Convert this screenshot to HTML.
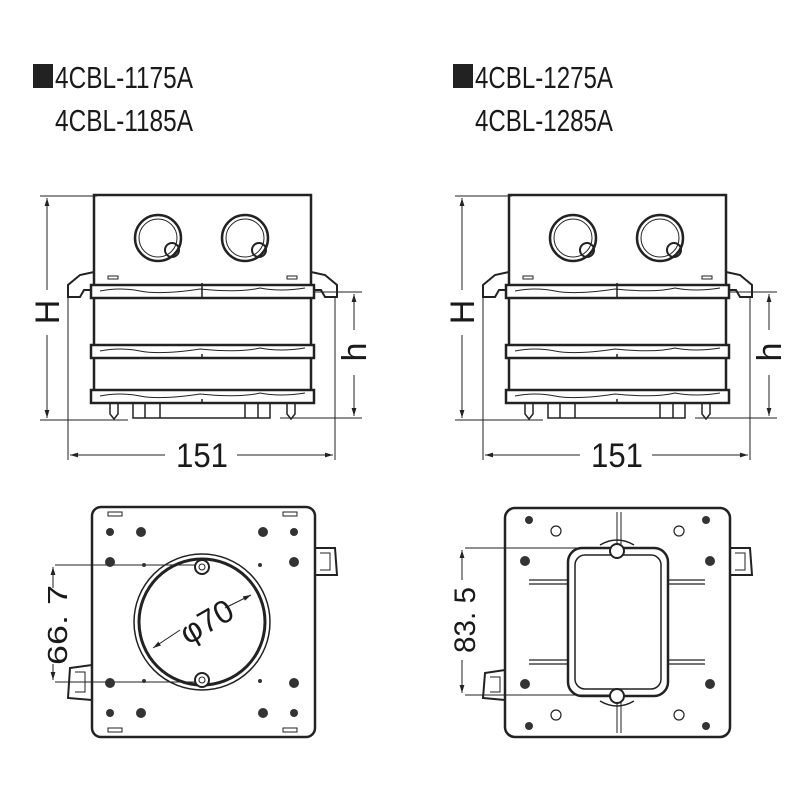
<!DOCTYPE html>
<html><head><meta charset="utf-8"><style>html,body{margin:0;padding:0;background:#fff}svg{display:block}text{font-family:"Liberation Sans",sans-serif;fill:#1a1a1a}</style></head>
<body>
<svg width="800" height="800" viewBox="0 0 800 800" xmlns="http://www.w3.org/2000/svg">
<defs>
<marker id="ar" viewBox="0 0 10 10" refX="10" refY="5" markerWidth="8" markerHeight="8" orient="auto-start-reverse"><path d="M0,2 L10,5 L0,8 z" fill="#222"/></marker>
<g id="side" fill="none" stroke="#222">
 <rect x="94" y="195" width="217" height="92" stroke-width="2.5" fill="#fff"/>
 <circle cx="158" cy="238" r="23" stroke-width="2.5"/><circle cx="158" cy="238" r="19" stroke-width="1"/>
 <circle cx="172" cy="250" r="7" stroke-width="2"/>
 <circle cx="245" cy="238" r="23" stroke-width="2.5"/><circle cx="245" cy="238" r="19" stroke-width="1"/>
 <circle cx="259" cy="250" r="7" stroke-width="2"/>
 <path d="M94,272 L80,275 L68,285 L68,297 L80,297 L84,290 L94,290" stroke-width="2"/>
 <path d="M311,272 L325,275 L337,285 L337,297 L325,297 L321,290 L311,290" stroke-width="2"/>
 <rect x="108" y="276" width="10" height="3" stroke-width="1"/><rect x="287" y="276" width="10" height="3" stroke-width="1"/>
 <rect x="91" y="285" width="223" height="13" stroke-width="2.5" fill="#fff"/>
 <path d="M94,298 L94,390 M311,298 L311,390" stroke-width="2.5"/>
 <rect x="91" y="345" width="223" height="13" stroke-width="2.5" fill="#fff"/>
 <rect x="91" y="390" width="223" height="13" stroke-width="2.5" fill="#fff"/>
 <path d="M100,291 q20,-4 40,0 q20,4 60,-2 q40,4 60,-1 q20,4 45,0 M100,351 q20,-4 40,0 q20,4 60,-2 q40,4 60,-1 q20,4 45,0 M100,396 q20,-4 40,0 q20,4 60,-2 q40,4 60,-1 q20,4 45,0" stroke-width="1"/>
 <path d="M202,283 L202,298 M202,354 L202,358 M202,399 L202,403" stroke-width="1.5"/>
 <path d="M133,403 L133,418 L270,418 L270,403 M145,403 L145,418 M160,403 L160,418 M245,403 L245,418 M258,403 L258,418" stroke-width="1.5"/>
 <path d="M110,403 L110,414 L114,419 L118,414 L118,403 M287,403 L287,414 L291,419 L295,414 L295,403" stroke-width="1.5"/>
 <path d="M97,196 L40,196 M128,420 L40,420 M314,292 L362,292 M280,418 L362,418 M68,297 L68,460 M335,297 L335,460" stroke-width="1"/>
 <line x1="47" y1="198" x2="47" y2="290" stroke-width="1" marker-start="url(#ar)"/>
 <line x1="47" y1="335" x2="47" y2="418" stroke-width="1" marker-end="url(#ar)"/>
 <line x1="354" y1="294" x2="354" y2="330" stroke-width="1" marker-start="url(#ar)"/>
 <line x1="354" y1="375" x2="354" y2="416" stroke-width="1" marker-end="url(#ar)"/>
 <line x1="70" y1="455" x2="165" y2="455" stroke-width="1" marker-start="url(#ar)"/>
 <line x1="237" y1="455" x2="333" y2="455" stroke-width="1" marker-end="url(#ar)"/>
</g>
</defs>
<rect x="33" y="64" width="20" height="24" fill="#222"/>
<text x="55" y="88" font-size="31" textLength="138" lengthAdjust="spacingAndGlyphs">4CBL-1175A</text>
<text x="55" y="131" font-size="31" textLength="138" lengthAdjust="spacingAndGlyphs">4CBL-1185A</text>
<rect x="453" y="64" width="20" height="24" fill="#222"/>
<text x="475" y="88" font-size="31" textLength="138" lengthAdjust="spacingAndGlyphs">4CBL-1275A</text>
<text x="475" y="131" font-size="31" textLength="138" lengthAdjust="spacingAndGlyphs">4CBL-1285A</text>

<use href="#side"/>
<use href="#side" transform="translate(415,0)"/>
<g font-size="34">
<text x="202" y="467" text-anchor="middle" textLength="52" lengthAdjust="spacingAndGlyphs">151</text>
<text x="617" y="467" text-anchor="middle" textLength="52" lengthAdjust="spacingAndGlyphs">151</text>
<text transform="translate(59,312) rotate(-90)" text-anchor="middle">H</text>
<text transform="translate(474,312) rotate(-90)" text-anchor="middle">H</text>
<text transform="translate(366,352) rotate(-90)" text-anchor="middle">h</text>
<text transform="translate(781,352) rotate(-90)" text-anchor="middle">h</text>
</g>

<g fill="none" stroke="#222">
 <rect x="92" y="507" width="223" height="230" rx="9" stroke-width="2.5"/>
 <path d="M315,548 L335,548 L337,575 L315,575 M92,665 L70,668 L68,698 L92,700" stroke-width="2"/>
 <path d="M320,553 L330,553 L330,570 L320,570 M75,672 L85,672 L85,692 L75,692" stroke-width="1"/>
 <circle cx="202" cy="622" r="68" stroke-width="1.5"/>
 <circle cx="202" cy="622" r="63" stroke-width="3"/>
 <circle cx="202" cy="567" r="7" stroke-width="2" fill="#fff"/><circle cx="202" cy="567" r="3" stroke-width="1"/>
 <circle cx="202" cy="680" r="7" stroke-width="2" fill="#fff"/><circle cx="202" cy="680" r="3" stroke-width="1"/>
 <path d="M55,565 L195,565 M55,682 L195,682" stroke-width="1"/>
 <line x1="53" y1="588" x2="53" y2="567" stroke-width="1" marker-end="url(#ar)"/>
 <line x1="53" y1="664" x2="53" y2="680" stroke-width="1" marker-end="url(#ar)"/>
 <line x1="180" y1="630" x2="153" y2="648" stroke-width="1" marker-end="url(#ar)"/>
 <line x1="225" y1="608" x2="251" y2="595" stroke-width="1" marker-end="url(#ar)"/>
 <rect x="108" y="512" width="14" height="4" stroke-width="1"/><rect x="283" y="512" width="14" height="4" stroke-width="1"/>
 <rect x="108" y="728" width="14" height="4" stroke-width="1"/><rect x="283" y="728" width="14" height="4" stroke-width="1"/>
</g>
<g fill="#333">
 <circle cx="110" cy="532" r="4"/><circle cx="141" cy="532" r="5"/><circle cx="263" cy="532" r="5"/><circle cx="294" cy="532" r="4"/>
 <circle cx="110" cy="562" r="5"/><circle cx="294" cy="562" r="5"/><circle cx="110" cy="683" r="5"/><circle cx="294" cy="683" r="5"/>
 <circle cx="110" cy="713" r="4"/><circle cx="141" cy="713" r="5"/><circle cx="263" cy="713" r="5"/><circle cx="294" cy="713" r="4"/>
 <circle cx="144" cy="565" r="2"/><circle cx="260" cy="565" r="2"/><circle cx="144" cy="681" r="2"/><circle cx="260" cy="681" r="2"/>
</g>
<text transform="translate(212,631) rotate(-30)" font-size="32" text-anchor="middle">φ70</text>
<text transform="translate(67,625) rotate(-90)" font-size="28" text-anchor="middle" textLength="80" lengthAdjust="spacingAndGlyphs">66. 7</text>

<g fill="none" stroke="#222">
 <rect x="505" y="508" width="225" height="229" rx="10" stroke-width="2.5"/>
 <path d="M730,548 L750,548 L752,575 L730,575 M505,670 L485,673 L483,698 L505,700" stroke-width="2"/>
 <path d="M735,553 L745,553 L745,570 L735,570 M490,677 L500,677 L500,692 L490,692" stroke-width="1"/>
 <path d="M617,512 L617,545 M621,512 L621,545 M617,700 L617,733 M621,700 L621,733" stroke-width="1"/>
 <path d="M529,580 L568,580 M529,584 L568,584 M668,580 L705,580 M668,584 L705,584 M529,660 L568,660 M529,664 L568,664 M668,660 L705,660 M668,664 L705,664" stroke-width="1.2"/>
 <rect x="568" y="548" width="100" height="148" rx="14" stroke-width="2.5"/>
 <rect x="575" y="555" width="86" height="134" rx="10" stroke-width="1.5"/>
 <circle cx="617" cy="551" r="7" stroke-width="2" fill="#fff"/><circle cx="617" cy="696" r="7" stroke-width="2" fill="#fff"/>
 <path d="M600,545 q17,-10 34,0 M600,701 q17,10 34,0" stroke-width="1.5"/>
 <path d="M465,548 L610,548 M465,695 L610,695" stroke-width="1"/>
 <line x1="462" y1="580" x2="462" y2="550" stroke-width="1" marker-end="url(#ar)"/>
 <line x1="462" y1="660" x2="462" y2="693" stroke-width="1" marker-end="url(#ar)"/>
 <circle cx="556" cy="531" r="5" stroke-width="1.2"/><circle cx="679" cy="531" r="5" stroke-width="1.2"/>
 <circle cx="556" cy="715" r="5" stroke-width="1.2"/><circle cx="679" cy="715" r="5" stroke-width="1.2"/>
</g>
<g fill="#333">
 <circle cx="529" cy="520" r="4"/><circle cx="706" cy="520" r="4"/><circle cx="529" cy="726" r="4"/><circle cx="706" cy="726" r="4"/>
 <circle cx="525" cy="561" r="5"/><circle cx="710" cy="561" r="5"/><circle cx="525" cy="684" r="5"/><circle cx="710" cy="684" r="5"/>
</g>
<text transform="translate(475,620) rotate(-90)" font-size="30" text-anchor="middle" textLength="66" lengthAdjust="spacingAndGlyphs">83. 5</text>
</svg>
</body></html>
